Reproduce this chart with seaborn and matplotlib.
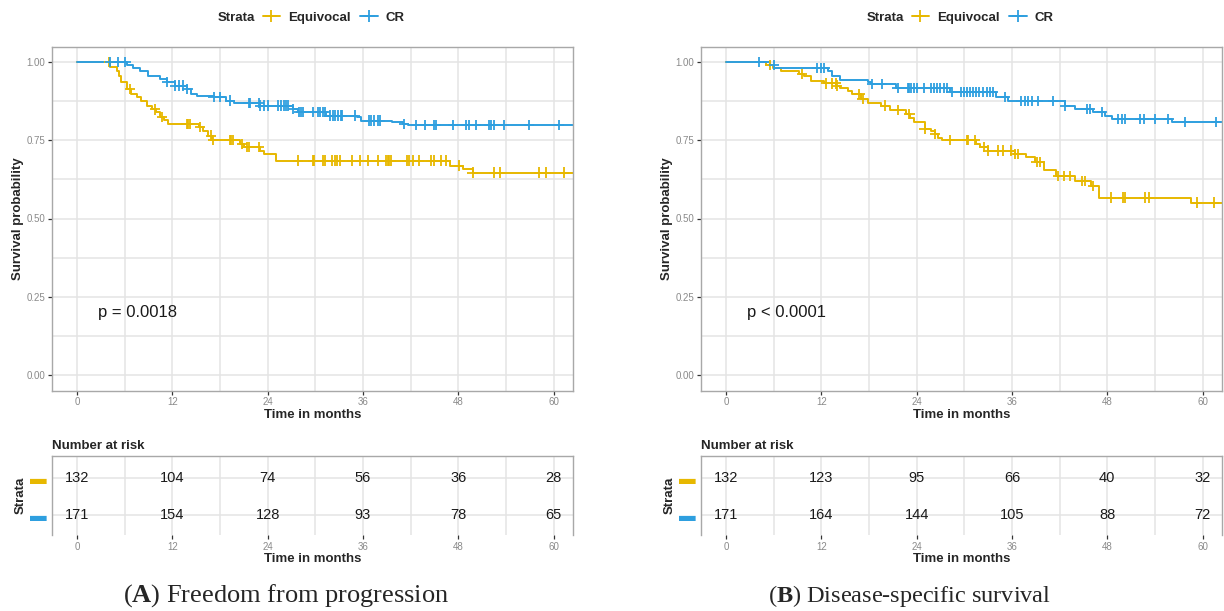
import numpy as np
import pandas as pd
import matplotlib
matplotlib.use("Agg")
import matplotlib.pyplot as plt
from matplotlib.lines import Line2D
from matplotlib.ticker import MultipleLocator
import seaborn as sns

strata = ["Equivocal", "CR"]
colors = {"Equivocal": "#E7B800", "CR": "#2E9FDF"}
risk_times = [0, 12, 24, 36, 48, 60]

# (A) Freedom from progression - step times / survival after each step
fp_eq_time = [0, 4.2, 5.0, 5.3, 5.6, 6.25, 6.8, 7.5, 8.1, 8.8, 9.5, 9.9, 10.4, 11.0, 11.5,
              15.3, 15.9, 16.5, 17.0, 20.5, 21.0, 23.0, 23.6, 25.1, 46.9, 48.6, 49.8]
fp_eq_surv = [1.0, 0.985, 0.973, 0.955, 0.936, 0.915, 0.899, 0.888, 0.877, 0.861, 0.849, 0.84, 0.825,
              0.815, 0.803, 0.792, 0.781, 0.765, 0.75, 0.739, 0.728, 0.717, 0.706, 0.685, 0.669, 0.658, 0.647]
fp_eq_cens = [4.0, 6.7, 9.85, 10.7, 13.8, 14.0, 14.2, 15.5, 16.9, 17.1, 19.2, 19.4, 19.6, 20.8, 21.4,
              21.6, 22.9, 27.8, 29.7, 29.9, 31.0, 31.2, 32.1, 32.5, 32.7, 33.1, 34.6, 35.6, 36.6, 37.9,
              38.9, 39.1, 39.3, 39.5, 41.6, 41.8, 42.3, 43.1, 44.6, 45.0, 45.8, 46.5, 48.1, 49.8, 52.5,
              53.2, 58.2, 59.0, 61.3]
fp_cr_time = [0, 6.3, 7.0, 7.9, 9.0, 10.4, 11.3, 12.3, 13.8, 14.4, 15.05, 17.2, 18.8, 19.8, 23.0,
              27.2, 27.8, 31.4, 35.2, 35.8, 39.6, 41.0, 41.7]
fp_cr_surv = [1.0, 0.99, 0.982, 0.973, 0.957, 0.947, 0.936, 0.925, 0.915, 0.899, 0.893, 0.888, 0.877,
              0.87, 0.861, 0.851, 0.84, 0.829, 0.824, 0.813, 0.808, 0.803, 0.80]
fp_cr_cens = [4.2, 5.2, 6.1, 11.3, 12.3, 12.9, 13.3, 13.9, 17.2, 18.0, 19.3, 21.6, 21.8, 22.9, 23.1,
              23.6, 24.0, 25.3, 25.7, 26.0, 26.3, 26.6, 27.2, 28.0, 28.2, 28.4, 29.7, 30.3, 30.6, 31.0,
              31.2, 31.8, 32.2, 32.5, 32.9, 33.2, 33.4, 35.0, 36.8, 37.0, 37.4, 37.9, 38.1, 41.2, 42.7,
              43.8, 45.0, 45.2, 47.3, 49.0, 49.4, 50.2, 51.9, 52.1, 52.5, 53.8, 56.9, 60.7]
fp_eq_risk = [132, 104, 74, 56, 36, 28]
fp_cr_risk = [171, 154, 128, 93, 78, 65]

# (B) Disease-specific survival
dss_eq_time = [0, 5.0, 5.9, 6.9, 9.2, 9.8, 10.7, 12.4, 13.9, 14.3, 15.3, 15.8, 17.0, 17.9, 19.5, 20.6,
               22.7, 23.2, 23.7, 25.0, 25.8, 26.3, 26.7, 27.2, 31.5, 32.0, 33.0, 36.4, 37.8, 38.9, 40.1,
               41.6, 43.9, 46.0, 46.9, 58.6]
dss_eq_surv = [1.0, 0.99, 0.982, 0.971, 0.963, 0.955, 0.941, 0.932, 0.925, 0.918, 0.909, 0.899, 0.883,
               0.869, 0.861, 0.847, 0.835, 0.822, 0.808, 0.787, 0.779, 0.771, 0.758, 0.75, 0.739, 0.728,
               0.717, 0.706, 0.696, 0.68, 0.655, 0.636, 0.619, 0.605, 0.567, 0.551]
dss_eq_cens = [5.5, 9.6, 12.6, 13.4, 13.8, 14.0, 16.8, 17.2, 20.0, 21.7, 23.1, 25.0, 26.3, 28.2, 30.3,
               30.5, 31.3, 32.5, 33.0, 34.3, 34.9, 35.9, 36.4, 36.8, 39.1, 39.5, 41.8, 42.6, 43.3, 44.8,
               45.2, 46.2, 48.5, 50.0, 50.2, 52.7, 53.2, 59.3, 61.4]
dss_cr_time = [0, 5.5, 6.1, 12.8, 13.4, 14.3, 17.9, 18.3, 21.4, 28.2, 34.0, 35.5, 42.7, 43.9, 46.2,
               47.7, 48.6, 56.1]
dss_cr_surv = [1.0, 0.99, 0.982, 0.973, 0.957, 0.944, 0.937, 0.93, 0.918, 0.904, 0.888, 0.875, 0.861,
               0.851, 0.84, 0.829, 0.818, 0.808]
dss_cr_cens = [4.2, 6.0, 11.5, 11.9, 12.4, 18.4, 19.6, 21.6, 22.9, 23.1, 23.3, 23.7, 24.1, 24.9, 25.8,
               26.2, 26.6, 27.0, 27.4, 27.8, 28.4, 29.6, 30.0, 30.3, 30.7, 31.1, 31.5, 31.9, 32.4, 32.8,
               33.2, 33.6, 35.1, 37.2, 37.6, 38.0, 38.5, 39.3, 41.2, 42.7, 45.4, 45.8, 47.3, 49.4, 49.8,
               50.2, 52.1, 52.6, 54.0, 55.7, 57.8, 61.7]
dss_eq_risk = [132, 123, 95, 66, 40, 32]
dss_cr_risk = [171, 164, 144, 105, 88, 72]

sns.set_theme(style="white")
plt.rcParams["font.family"] = ["Liberation Sans", "DejaVu Sans"]
plt.rcParams["mathtext.fontset"] = "custom"
plt.rcParams["mathtext.rm"] = "Liberation Serif"
plt.rcParams["mathtext.bf"] = "Liberation Serif:bold"

W, H = 1224, 611
fig = plt.figure(figsize=(W / 100, H / 100), dpi=100)
fig.patch.set_facecolor("white")

XMIN, XMAX = -3.15, 62.45
grid_col = "#e4e4e4"
border_col = "#a8a8a8"
tick_lab_col = "#8a8a8a"


def px_axes(l, t, r, b):
    return fig.add_axes([l / W, 1 - b / H, (r - l) / W, (b - t) / H])


def curve_frame(times, survs, label, end=XMAX):
    return pd.DataFrame({"time": list(times) + [end],
                         "surv": list(survs) + [survs[-1]],
                         "strata": label})


def cens_frame(times, survs, cens, label):
    idx = np.searchsorted(times, cens, side="right") - 1
    return pd.DataFrame({"time": cens, "surv": np.array(survs)[idx], "strata": label})


def style_axes(ax):
    ax.set_xlim(XMIN, XMAX)
    ax.xaxis.set_major_locator(MultipleLocator(12))
    ax.xaxis.set_minor_locator(MultipleLocator(6))
    ax.grid(True, which="both", axis="x", color=grid_col, lw=1.1)
    ax.tick_params(axis="x", which="major", length=3, width=0.9, color="#333333",
                   labelsize=7, labelcolor=tick_lab_col, pad=2, bottom=True)
    ax.tick_params(axis="x", which="minor", length=0)
    ax.set_axisbelow(True)
    for sp in ax.spines.values():
        sp.set_color(border_col)
        sp.set_linewidth(1.0)


def draw_panel(left, right, eq, cr, pval, eq_risk, cr_risk):
    ax = px_axes(left, 46.5, right, 390.5)
    curves = pd.concat([curve_frame(eq[0], eq[1], "Equivocal"), curve_frame(cr[0], cr[1], "CR")])
    cens = pd.concat([cens_frame(eq[0], eq[1], eq[2], "Equivocal"),
                      cens_frame(cr[0], cr[1], cr[2], "CR")])
    sns.lineplot(data=curves, x="time", y="surv", hue="strata", hue_order=strata, palette=colors,
                 estimator=None, drawstyle="steps-post", lw=1.4, legend=False, ax=ax)
    sns.scatterplot(data=cens, x="time", y="surv", hue="strata", hue_order=strata, palette=colors,
                    marker="+", s=55, linewidth=1.3, legend=False, ax=ax, zorder=3)
    style_axes(ax)
    ax.set_ylim(-0.05, 1.05)
    ax.yaxis.set_major_locator(MultipleLocator(0.25))
    ax.yaxis.set_minor_locator(MultipleLocator(0.125))
    ax.yaxis.set_major_formatter(matplotlib.ticker.FormatStrFormatter("%.2f"))
    ax.grid(True, which="both", axis="y", color=grid_col, lw=1.1)
    ax.tick_params(axis="y", which="major", length=3, width=0.9, color="#333333",
                   labelsize=7, labelcolor=tick_lab_col, pad=2, left=True)
    ax.tick_params(axis="y", which="minor", length=0)
    ax.set_xlabel("Time in months", fontsize=9.5, fontweight="bold", labelpad=1)
    ax.set_ylabel("Survival probability", fontsize=9.5, fontweight="bold", labelpad=2)
    ax.text(2.6, 0.2, pval, fontsize=12, ha="left", va="center", color="#1a1a1a")

    # legend row on top
    mid = (left + right) / 2
    fig.text((mid - 95) / W, 1 - 18 / H, "Strata", fontsize=9.5, fontweight="bold",
             ha="left", va="center")
    handles = [Line2D([], [], color=colors[s], lw=1.4, marker="+", markersize=8, mew=1.3)
               for s in strata]
    fig.legend(handles, strata, loc="center left", bbox_to_anchor=((mid - 50) / W, 1 - 18 / H),
               ncol=2, frameon=False, prop={"weight": "bold", "size": 9.5}, handlelength=1.35,
               handletextpad=0.6, columnspacing=0.7, borderpad=0, borderaxespad=0, numpoints=1)

    # number at risk table
    tab = px_axes(left, 456, right, 535)
    style_axes(tab)
    tab.set_ylim(0.46, 2.59)
    tab.set_yticks([2, 1])
    tab.set_yticklabels(["\u25ac", "\u25ac"], fontsize=12)
    for lab, s in zip(tab.get_yticklabels(), strata):
        lab.set_color(colors[s])
    tab.tick_params(axis="y", length=0, pad=4)
    tab.grid(True, which="major", axis="y", color=grid_col, lw=1.1)
    tab.spines["bottom"].set_visible(False)
    for t, n_eq, n_cr in zip(risk_times, eq_risk, cr_risk):
        tab.text(t, 2, str(n_eq), ha="center", va="center", fontsize=10.5, color="#1a1a1a")
        tab.text(t, 1, str(n_cr), ha="center", va="center", fontsize=10.5, color="#1a1a1a")
    tab.set_xlabel("Time in months", fontsize=9.5, fontweight="bold", labelpad=1)
    tab.set_ylabel("Strata", fontsize=9.5, fontweight="bold", labelpad=2)
    tab.set_title("Number at risk", loc="left", fontsize=9.5, fontweight="bold", pad=5)
    return ax, tab


draw_panel(52, 573, (fp_eq_time, fp_eq_surv, fp_eq_cens), (fp_cr_time, fp_cr_surv, fp_cr_cens),
           "p = 0.0018", fp_eq_risk, fp_cr_risk)
draw_panel(701, 1222, (dss_eq_time, dss_eq_surv, dss_eq_cens), (dss_cr_time, dss_cr_surv, dss_cr_cens),
           "p < 0.0001", dss_eq_risk, dss_cr_risk)

fig.text(286 / W, 1 - 596 / H, r"($\mathbf{A}$) Freedom from progression", family="Liberation Serif",
         fontsize=19, ha="center", va="center")
fig.text(910 / W, 1 - 596 / H, r"($\mathbf{B}$) Disease-specific survival", family="Liberation Serif",
         fontsize=17.5, ha="center", va="center")

fig.savefig("out.png", dpi=100, facecolor="white")
